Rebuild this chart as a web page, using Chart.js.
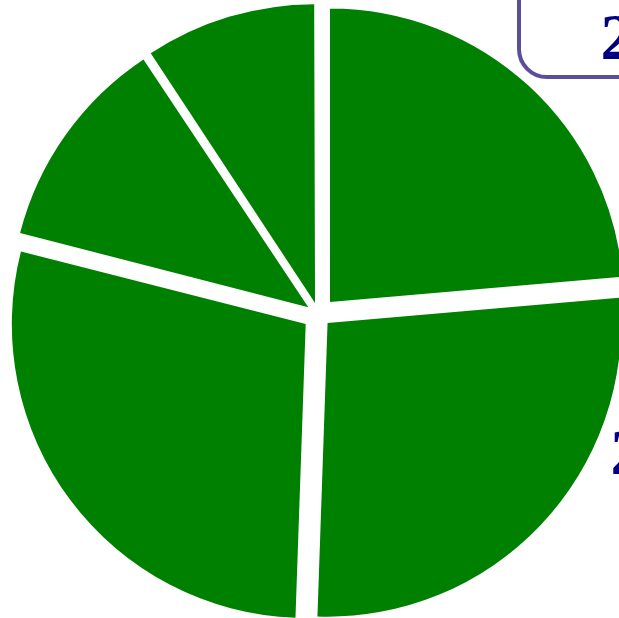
<!DOCTYPE html>
<html><head><meta charset="utf-8">
<script src="https://cdn.jsdelivr.net/npm/chart.js@4/dist/chart.umd.min.js"></script>
<style>html,body{margin:0;padding:0;background:#fff;overflow:hidden}</style>
</head><body>
<canvas id="c" width="619" height="618"></canvas>
<script>
const categories = ['Slice 1', 'Slice 2', 'Slice 3', 'Slice 4', 'Slice 5'];
const values = [23.6, 26.9, 28.4, 11.7, 9.3];
const percentLabels = ['24%', '27%', '28%', '12%', '9%'];
const titleText = '2023';

const overlay = {
  id: 'overlay',
  afterDraw(chart) {
    const ctx = chart.ctx;
    ctx.save();
    const x = 519, y = -40, w = 200, h = 117, r = 28;
    ctx.beginPath();
    ctx.moveTo(x + r, y);
    ctx.lineTo(x + w - r, y);
    ctx.arcTo(x + w, y, x + w, y + r, r);
    ctx.lineTo(x + w, y + h - r);
    ctx.arcTo(x + w, y + h, x + w - r, y + h, r);
    ctx.lineTo(x + r, y + h);
    ctx.arcTo(x, y + h, x, y + h - r, r);
    ctx.lineTo(x, y + r);
    ctx.arcTo(x, y, x + r, y, r);
    ctx.closePath();
    ctx.strokeStyle = '#5b4f9c';
    ctx.lineWidth = 4;
    ctx.stroke();
    ctx.fillStyle = '#000080';
    ctx.font = 'bold 66px "Liberation Serif", "Times New Roman", "DejaVu Serif", serif';
    ctx.textBaseline = 'alphabetic';
    ctx.textAlign = 'left';
    ctx.fillText(titleText, 600.5, 58.5);
    ctx.fillText(percentLabels[1], 610.5, 473.5);
    ctx.textAlign = 'right';
    ctx.fillText(percentLabels[3], 3, 13);
    ctx.restore();
  }
};

new Chart(document.getElementById('c'), {
  type: 'pie',
  data: {
    labels: categories,
    datasets: [{
      data: values,
      backgroundColor: '#008000',
      borderWidth: 0,
      offset: [68, 50, 64, 50, 48]
    }]
  },
  options: {
    responsive: false,
    animation: false,
    radius: 293.5,
    layout: { padding: { left: 18, top: 11, right: 0, bottom: 0 } },
    plugins: { legend: { display: false }, tooltip: { enabled: false } },
    events: []
  },
  plugins: [overlay]
});
</script>
</body></html>
